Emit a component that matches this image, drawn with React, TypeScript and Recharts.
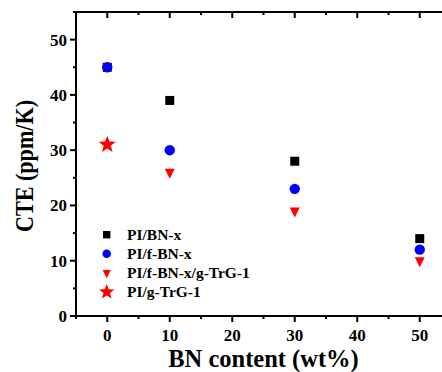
import React from "react";
import { ScatterChart, Scatter, XAxis, YAxis } from "recharts";

// BN content (wt%) and CTE (ppm/K)
const bnContent = [0, 10, 30, 50];
const piBn = [45, 39, 28, 14];
const piFbn = [45, 30, 23, 12];
const trgBnContent = [10, 30, 50];
const piFbnTrg = [26, 19, 10];
const trgOnlyContent = [0];
const piTrg = [31];

const seriesNames = ["PI/BN-x", "PI/f-BN-x", "PI/f-BN-x/g-TrG-1", "PI/g-TrG-1"];

const xMin = -5;
const xMax = 55;
const xTicks = [-5, 0, 5, 10, 15, 20, 25, 30, 35, 40, 45, 50, 55];
const xLabels = [0, 10, 20, 30, 40, 50];
const yTicks = [0, 5, 10, 15, 20, 25, 30, 35, 40, 45, 50, 55];
const yLabels = [0, 10, 20, 30, 40, 50];
const yMax = 55;

// chart layout
const CHART_W = 451;
const CHART_H = 372;
const MARGIN_TOP = 12;
const X_AXIS_H = 56;
const Y_AXIS_W = 76;
const PLOT_W = CHART_W - Y_AXIS_W;
const PLOT_H = CHART_H - MARGIN_TOP - X_AXIS_H;

const toPoints = (xs: number[], ys: number[]) =>
  xs.map((x, i) => ({ x, y: ys[i] }));

const FONT = "'Liberation Serif', 'Times New Roman', serif";

function starPath(cx: number, cy: number, R: number) {
  const r = R * 0.42;
  let d = "";
  for (let i = 0; i < 10; i++) {
    const rad = i % 2 === 0 ? R : r;
    const a = -Math.PI / 2 + (i * Math.PI) / 5;
    d += (i === 0 ? "M" : "L") + (cx + rad * Math.cos(a)) + "," + (cy + rad * Math.sin(a));
  }
  return d + "Z";
}

function Marker({ kind, cx, cy, s = 1 }: { kind: number; cx: number; cy: number; s?: number }) {
  if (kind === 0)
    return <rect x={cx - 4.5 * s} y={cy - 4.5 * s} width={9 * s} height={9 * s} fill="#000" />;
  if (kind === 1) return <circle cx={cx} cy={cy} r={5.2 * s} fill="#0000FF" />;
  if (kind === 2)
    return (
      <polygon
        points={`${cx - 5 * s},${cy - 3.5 * s} ${cx + 5 * s},${cy - 3.5 * s} ${cx},${cy + 6.5 * s}`}
        fill="#FF0000"
      />
    );
  return <path d={starPath(cx, cy, 9 * s)} fill="#FF0000" />;
}

const shape = (kind: number) => (p: any) => <Marker kind={kind} cx={p.cx} cy={p.cy} />;

function BottomTick({ x, y, payload }: any) {
  const v = payload.value;
  const major = xLabels.includes(v);
  return (
    <g>
      <line x1={x} x2={x} y1={y} y2={y + (major ? 6 : 3)} stroke="#000" strokeWidth={2} />
      {major && (
        <text x={x} y={y + 25} textAnchor="middle" fontFamily={FONT} fontWeight="bold" fontSize={17} fill="#000">
          {v}
        </text>
      )}
    </g>
  );
}

function LeftTick({ x, y, payload }: any) {
  const v = payload.value;
  const major = yLabels.includes(v);
  return (
    <g>
      <line x1={x} x2={x - (major ? 6 : 3)} y1={y} y2={y} stroke="#000" strokeWidth={2} />
      {major && (
        <text x={x - 9} y={y + 6} textAnchor="end" fontFamily={FONT} fontWeight="bold" fontSize={17} fill="#000">
          {v}
        </text>
      )}
    </g>
  );
}

// top frame of the plot (same linear x mapping as the bottom axis)
function TopFrame() {
  const px = (v: number) => Y_AXIS_W + ((v - xMin) / (xMax - xMin)) * PLOT_W;
  return (
    <svg
      width={442}
      height={40}
      style={{ position: "absolute", left: 0, top: 0, pointerEvents: "none" }}
    >
      <line x1={Y_AXIS_W - 1} x2={CHART_W} y1={MARGIN_TOP} y2={MARGIN_TOP} stroke="#000" strokeWidth={2} />
      {xTicks.map((v) => (
        <line
          key={v}
          x1={px(v)}
          x2={px(v)}
          y1={MARGIN_TOP}
          y2={MARGIN_TOP + (xLabels.includes(v) ? 6 : 3)}
          stroke="#000"
          strokeWidth={2}
        />
      ))}
    </svg>
  );
}

function LegendBox() {
  return (
    <svg width={160} height={80} style={{ position: "absolute", left: 96, top: 224 }}>
      {seriesNames.map((name, i) => {
        const cy = 10.7 + i * 19.1;
        return (
          <g key={name}>
            <Marker kind={i} cx={10.7} cy={cy} s={i === 3 ? 0.9 : 0.82} />
            <text x={31} y={cy + 5} fontFamily={FONT} fontWeight="bold" fontSize={15.5} fill="#000">
              {name}
            </text>
          </g>
        );
      })}
    </svg>
  );
}

export default function App() {
  return (
    <div style={{ position: "absolute", left: 0, top: 0, width: 442, height: 372, overflow: "hidden", background: "#fff" }}>
      <ScatterChart width={CHART_W} height={CHART_H} margin={{ top: MARGIN_TOP, right: 0, bottom: 0, left: 0 }}>
        <XAxis
          type="number"
          dataKey="x"
          domain={[xMin, xMax]}
          ticks={xTicks}
          interval={0}
          allowDataOverflow
          height={X_AXIS_H}
          tickSize={0}
          tickMargin={0}
          tickLine={false}
          tick={<BottomTick />}
          axisLine={{ stroke: "#000", strokeWidth: 2 }}
          label={(p: any) => {
            const vb = p.viewBox;
            return (
              <text x={vb.x + vb.width / 2} y={367} textAnchor="middle" fontFamily={FONT} fontWeight="bold" fontSize={24.5} fill="#000">
                BN content (wt%)
              </text>
            );
          }}
        />
        <YAxis
          type="number"
          dataKey="y"
          domain={[0, yMax]}
          ticks={yTicks}
          interval={0}
          allowDataOverflow
          width={Y_AXIS_W}
          tickSize={0}
          tickMargin={0}
          tickLine={false}
          tick={<LeftTick />}
          axisLine={{ stroke: "#000", strokeWidth: 2 }}
          label={() => {
            const cx = 33;
            const cy = MARGIN_TOP + PLOT_H / 2 + 2;
            return (
              <text
                x={cx}
                y={cy}
                transform={`rotate(-90 ${cx} ${cy})`}
                textAnchor="middle"
                fontFamily={FONT}
                fontWeight="bold"
                fontSize={24.5}
                textLength={132}
                lengthAdjust="spacingAndGlyphs"
                fill="#000"
              >
                CTE (ppm/K)
              </text>
            );
          }}
        />
        <Scatter name={seriesNames[0]} data={toPoints(bnContent, piBn)} shape={shape(0)} isAnimationActive={false} />
        <Scatter name={seriesNames[1]} data={toPoints(bnContent, piFbn)} shape={shape(1)} isAnimationActive={false} />
        <Scatter name={seriesNames[2]} data={toPoints(trgBnContent, piFbnTrg)} shape={shape(2)} isAnimationActive={false} />
        <Scatter name={seriesNames[3]} data={toPoints(trgOnlyContent, piTrg)} shape={shape(3)} isAnimationActive={false} />
      </ScatterChart>
      <TopFrame />
      <LegendBox />
    </div>
  );
}
